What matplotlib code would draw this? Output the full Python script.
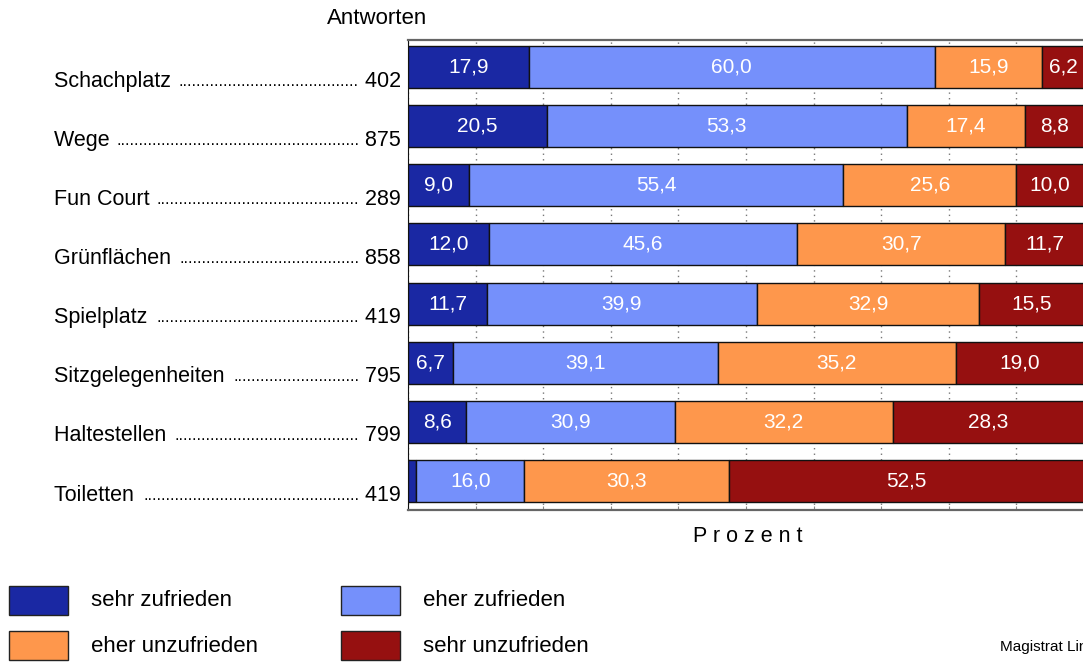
import matplotlib
matplotlib.use("Agg")
import matplotlib.pyplot as plt
from matplotlib.patches import Rectangle

# data
categories = ["Schachplatz", "Wege", "Fun Court", "Grünflächen", "Spielplatz",
              "Sitzgelegenheiten", "Haltestellen", "Toiletten"]
antworten = [402, 875, 289, 858, 419, 795, 799, 419]
sehr_zufrieden = [17.9, 20.5, 9.0, 12.0, 11.7, 6.7, 8.6, 1.2]
eher_zufrieden = [60.0, 53.3, 55.4, 45.6, 39.9, 39.1, 30.9, 16.0]
eher_unzufrieden = [15.9, 17.4, 25.6, 30.7, 32.9, 35.2, 32.2, 30.3]
sehr_unzufrieden = [6.2, 8.8, 10.0, 11.7, 15.5, 19.0, 28.3, 52.5]

series = [sehr_zufrieden, eher_zufrieden, eher_unzufrieden, sehr_unzufrieden]
names = ["sehr zufrieden", "eher zufrieden", "eher unzufrieden", "sehr unzufrieden"]
colors = ["#1a28a3", "#7590fb", "#fe974c", "#961010"]

plt.rcParams['font.family'] = ['Liberation Sans', 'DejaVu Sans']

W, H = 1083, 662
fig = plt.figure(figsize=(W / 100, H / 100), dpi=100)


def px(x, y):
    return x / W, 1 - y / H


ax = fig.add_axes([408 / W, 1 - 510 / H, (1084 - 408) / W, (510 - 40) / H])

ypos = list(range(len(categories)))
left = [0] * len(categories)
for vals, col in zip(series, colors):
    bars = ax.barh(ypos, vals, left=left, height=0.71, color=col,
                   edgecolor="#111111", linewidth=1, zorder=3)
    for b, v in zip(bars, vals):
        if v >= 5:
            ax.text(b.get_x() + b.get_width() / 2, b.get_y() + b.get_height() / 2,
                    f"{v:.1f}".replace(".", ","), ha="center", va="center",
                    color="white", fontsize=15, zorder=4)
    left = [l + v for l, v in zip(left, vals)]

ax.set_xlim(0, 100)
ax.set_ylim(len(categories) - 1 + 0.49, -0.457)
ax.set_xticks(range(0, 101, 10))
ax.set_xticklabels([])
ax.set_yticks([])
ax.tick_params(axis="x", direction="in", length=3, color="#888888", top=False)
ax.grid(axis="x", linestyle=(0, (1, 3)), color="#777777", linewidth=1)
ax.set_axisbelow(True)
ax.spines["left"].set_color("#111111")
ax.spines["right"].set_visible(False)
for s in ["top", "bottom"]:
    ax.spines[s].set_color("#666666")
    ax.spines[s].set_linewidth(1.6)

# row labels with dot leaders (sit a bit below the bar centres)
fig.canvas.draw()
rend = fig.canvas.get_renderer()
dot = fig.text(0, 0, ".", fontsize=12)
dot_w = dot.get_window_extent(rend).width
dot.remove()
for i, (cat, n) in enumerate(zip(categories, antworten)):
    yc = (ax.transData.transform((0, i))[1] - 14) / H
    t1 = fig.text(54 / W, yc, cat + " ", fontsize=15.5, va="center")
    t2 = fig.text(401 / W, yc, " " + str(n), fontsize=15.5, va="center", ha="right")
    x1 = t1.get_window_extent(rend).x1
    x0 = t2.get_window_extent(rend).x0
    ndots = int((x0 - x1) / dot_w)
    fig.text(x0 / W, yc, "." * ndots, fontsize=12, va="center", ha="right")

fig.text(*px(377, 18), "Antworten", fontsize=16, ha="center", va="center")
fig.text(*px(748, 537), "P r o z e n t", fontsize=15.5, ha="center", va="center")

# legend
leg = [(9, 586, 0), (341, 586, 1), (9, 631, 2), (341, 631, 3)]
for x, y, k in leg:
    fig.add_artist(Rectangle(px(x, y + 29), 59 / W, 29 / H, transform=fig.transFigure,
                             facecolor=colors[k], edgecolor="#222222", linewidth=1))
    fig.text(*px(x + 82, y + 15), names[k], fontsize=16, va="center")

fig.text(*px(1000, 647), "Magistrat Linz", fontsize=11, va="center")

fig.savefig("out.png", dpi=100)
